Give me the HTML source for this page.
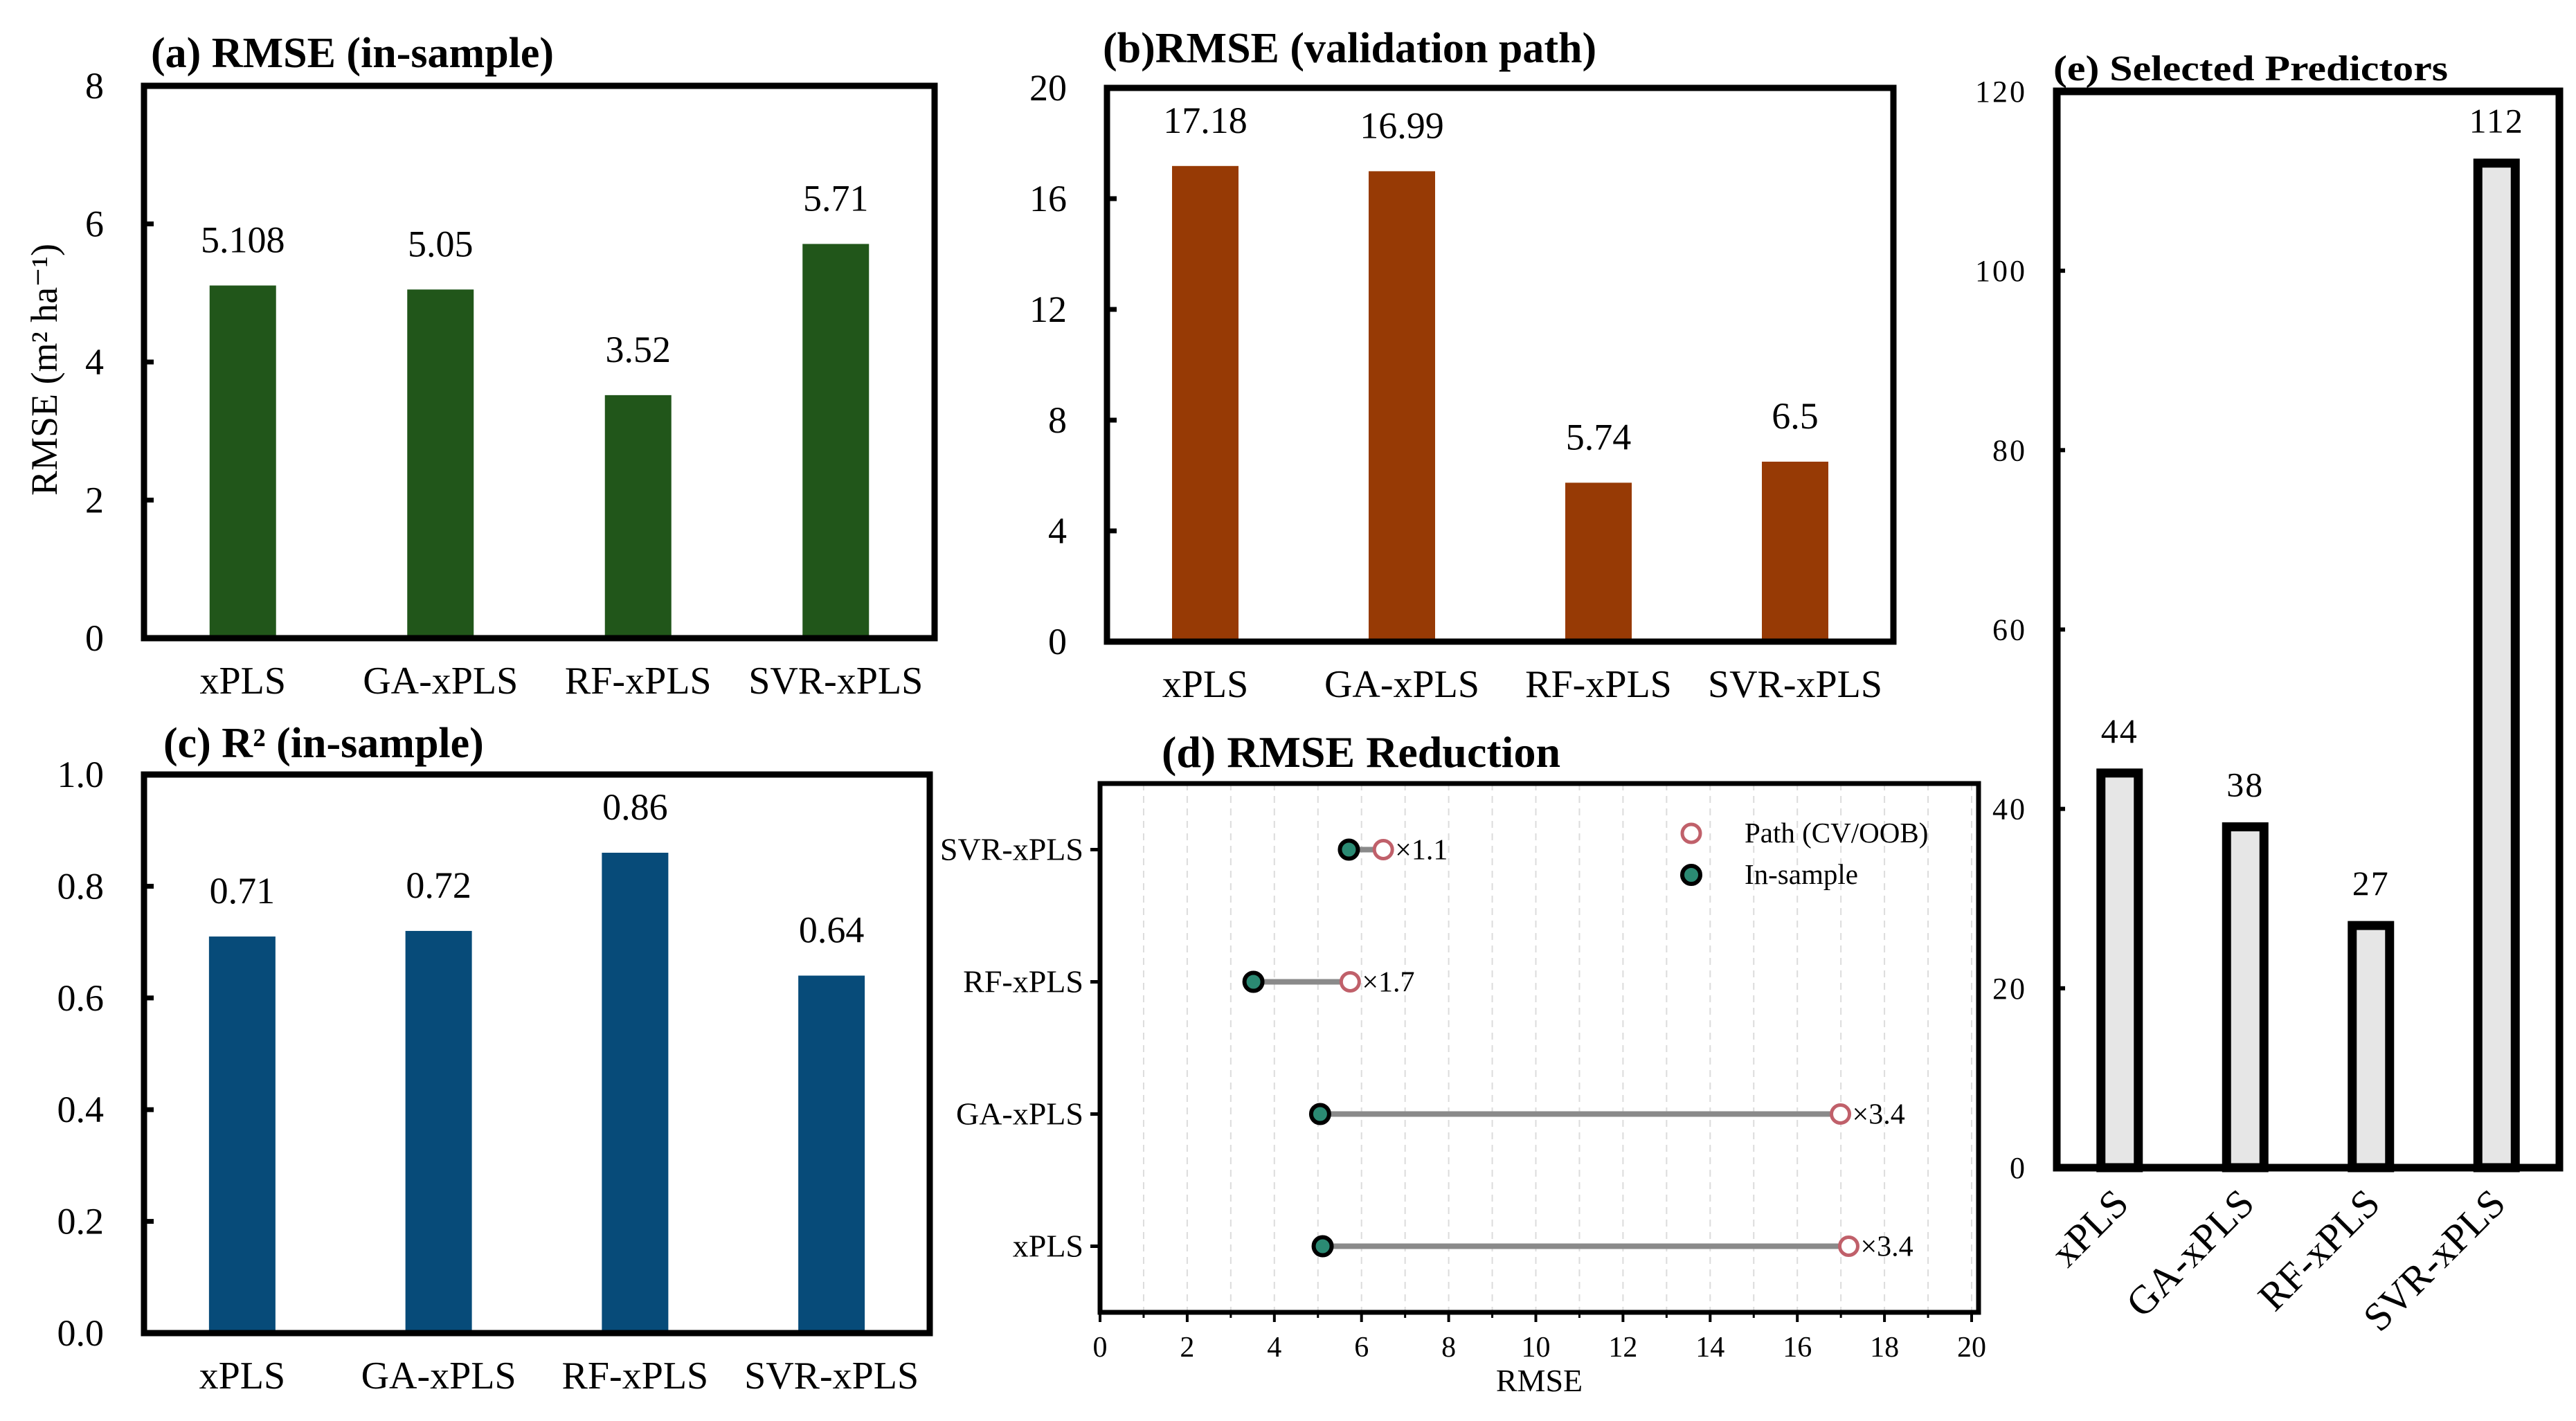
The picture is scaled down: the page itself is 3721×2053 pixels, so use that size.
<!DOCTYPE html>
<html><head><meta charset="utf-8"><style>
html,body{margin:0;padding:0;background:#fff;}
svg{display:block;font-family:"Liberation Serif",serif;}
</style></head><body>
<svg id="fig" width="3721" height="2053" viewBox="0 0 3721 2053" xmlns="http://www.w3.org/2000/svg"></svg>
<script>
const categories = ["xPLS","GA-xPLS","RF-xPLS","SVR-xPLS"];
const rmseInSample = [5.108, 5.05, 3.52, 5.71];
const rmseInSampleLabels = ["5.108","5.05","3.52","5.71"];
const rmsePath = [17.18, 16.99, 5.74, 6.5];
const rmsePathLabels = ["17.18","16.99","5.74","6.5"];
const r2InSample = [0.71, 0.72, 0.86, 0.64];
const r2Labels = ["0.71","0.72","0.86","0.64"];
const ratioLabels = ["×3.4","×3.4","×1.7","×1.1"];
const predictors = [44, 38, 27, 112];
const ticksA = [0,2,4,6,8];
const ticksB = [0,4,8,12,16,20];
const ticksC = ["0.0","0.2","0.4","0.6","0.8","1.0"];
const ticksD = [0,2,4,6,8,10,12,14,16,18,20];
const ticksE = [0,20,40,60,80,100,120];

const svg = document.getElementById('fig');
const NS = "http://www.w3.org/2000/svg";
function el(tag, attrs, text){
  const e = document.createElementNS(NS, tag);
  for (const k in attrs) e.setAttribute(k, attrs[k]);
  if (text !== undefined) e.textContent = text;
  svg.appendChild(e);
  return e;
}

function barPanel(o){
  const {L,R,T,B,ymax,vals,labels,ticks,color,title,titleX,titleY,name} = o;
  const bw = (R-L)/categories.length;
  const y = v => B - v/ymax*(B-T);
  const x = i => L + bw*(i+0.5);
  let t = el('text',{x:titleX,y:titleY,'font-size':62,'font-weight':'bold'},title);
  
  
  vals.forEach((v,i)=>{
    let r = el('rect',{x:x(i)-48,y:y(v),width:96,height:B-y(v),fill:color});
    
    
    let l = el('text',{x:x(i),y:y(v)-48,'font-size':54,'text-anchor':'middle'},labels[i]);
    
    
    let c = el('text',{x:x(i),y:B+80,'font-size':56,'text-anchor':'middle'},categories[i]);
    
    
  });
  ticks.forEach(tk=>{
    const v = parseFloat(tk);
    let ln = el('line',{x1:L,x2:L+14,y1:y(v),y2:y(v),stroke:'#000','stroke-width':7});
    
    
    let tl = el('text',{x:L-58,y:y(v)+18,'font-size':54,'text-anchor':'end'},String(tk));
    
    
  });
  let f = el('rect',{x:L,y:T,width:R-L,height:B-T,fill:'none',stroke:'#000','stroke-width':9});
  
  
}

barPanel({L:208,R:1350,T:124,B:922,ymax:8,vals:rmseInSample,labels:rmseInSampleLabels,ticks:ticksA,color:'#21561a',title:'(a) RMSE (in-sample)',titleX:218,titleY:97,name:'panel-a'});
let yt = el('text',{x:0,y:0,'font-size':54,'text-anchor':'middle',transform:'translate(82,534) rotate(-90)'},'RMSE (m² ha⁻¹)');


barPanel({L:1599,R:2735,T:127,B:927,ymax:20,vals:rmsePath,labels:rmsePathLabels,ticks:ticksB,color:'#973a05',title:'(b)RMSE (validation path)',titleX:1593,titleY:90,name:'panel-b'});
barPanel({L:208,R:1343,T:1119,B:1926,ymax:1,vals:r2InSample,labels:r2Labels,ticks:ticksC,color:'#074b79',title:'(c) R² (in-sample)',titleX:236,titleY:1094,name:'panel-c'});

// Panel d: dumbbell
(function(){
  const L=1589,R=2858,T=1132,B=1896, X0=1589, X20=2848;
  const x = v => X0 + v/20*(X20-X0);
  const step=(B-T)/4;
  const y = i => B - step*(i+0.5);
  let t = el('text',{x:1678,y:1108,'font-size':64,'font-weight':'bold'},'(d) RMSE Reduction');
  
  
  for(let v=1; v<=20; v++){
    let g = el('line',{x1:x(v),x2:x(v),y1:T,y2:B,stroke:'#dcdcdc','stroke-width':2,'stroke-dasharray':'10 8'});
    
    
    let mt = el('line',{x1:x(v),x2:x(v),y1:B,y2:B+8,stroke:'#000','stroke-width':3});
    
    
  }
  ticksD.forEach(v=>{
    let tk = el('line',{x1:x(v),x2:x(v),y1:B,y2:B+14,stroke:'#000','stroke-width':4});
    
    
    let tl = el('text',{x:x(v),y:B+64,'font-size':42,'text-anchor':'middle'},String(v));
    
    
  });
  let xt = el('text',{x:(L+R)/2,y:2010,'font-size':46,'text-anchor':'middle'},'RMSE');
  
  
  categories.forEach((c,i)=>{
    let tk = el('line',{x1:L-14,x2:L,y1:y(i),y2:y(i),stroke:'#000','stroke-width':5});
    
    
    let tl = el('text',{x:L-24,y:y(i)+15,'font-size':46,'text-anchor':'end'},c);
    
    
    let ln = el('line',{x1:x(rmseInSample[i]),x2:x(rmsePath[i]),y1:y(i),y2:y(i),stroke:'#8a8a8a','stroke-width':8});
    
    
    let p = el('circle',{cx:x(rmsePath[i]),cy:y(i),r:13,fill:'#fff',stroke:'#c0606a','stroke-width':5});
    
    
    let s = el('circle',{cx:x(rmseInSample[i]),cy:y(i),r:13,fill:'#2b8a73',stroke:'#000','stroke-width':6});
    
    
    let a = el('text',{x:x(rmsePath[i])+17,y:y(i)+14,'font-size':42},ratioLabels[i]);
    
    
  });
  let lp = el('circle',{cx:2443,cy:1204,r:13,fill:'#fff',stroke:'#c0606a','stroke-width':5});
  
  
  let lpt = el('text',{x:2520,y:1217,'font-size':41},'Path (CV/OOB)');
  
  
  let ls = el('circle',{cx:2443,cy:1264,r:13,fill:'#2b8a73',stroke:'#000','stroke-width':6});
  
  
  let lst = el('text',{x:2520,y:1277,'font-size':41},'In-sample');
  
  
  let f = el('rect',{x:L,y:T,width:R-L,height:B-T,fill:'none',stroke:'#000','stroke-width':7});
  
  
})();

// Panel e
(function(){
  const L=2971,R=3697,T=132,B=1687,ymax=120;
  const bw=(R-L)/categories.length;
  const x = i => L + bw*(i+0.5);
  const y = v => B - v/ymax*(B-T);
  let t = el('text',{x:2966,y:116,'font-size':52,'font-weight':'bold',textLength:570,lengthAdjust:'spacingAndGlyphs'},'(e) Selected Predictors');
  
  
  ticksE.forEach(v=>{
    let tk = el('line',{x1:L,x2:L+12,y1:y(v),y2:y(v),stroke:'#000','stroke-width':6});
    
    
    let tl = el('text',{x:2928,y:y(v)+15,'font-size':44,'text-anchor':'end','letter-spacing':3},String(v));
    
    
  });
  predictors.forEach((v,i)=>{
    let r = el('rect',{x:x(i)-27,y:y(v),width:54,height:B-y(v),fill:'#e6e6e6',stroke:'#000','stroke-width':13});
    
    
    let l = el('text',{x:x(i),y:y(v)-44,'font-size':50,'text-anchor':'middle','letter-spacing':2},String(v));
    
    
    let c = el('text',{x:0,y:0,'font-size':58,'text-anchor':'end',transform:'translate('+(x(i)+16)+',1742) rotate(-45)'},categories[i]);
    
    
  });
  let f = el('rect',{x:L,y:T,width:R-L,height:B-T,fill:'none',stroke:'#000','stroke-width':11});
  
  
})();
</script>
</body></html>
